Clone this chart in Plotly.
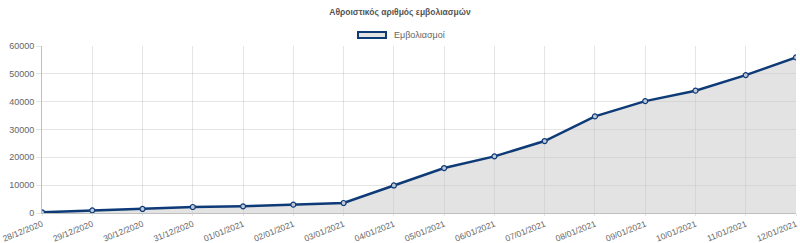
import plotly.graph_objects as go

dates = ["28/12/2020", "29/12/2020", "30/12/2020", "31/12/2020", "01/01/2021",
         "02/01/2021", "03/01/2021", "04/01/2021", "05/01/2021", "06/01/2021",
         "07/01/2021", "08/01/2021", "09/01/2021", "10/01/2021", "11/01/2021",
         "12/01/2021"]
vaccinations = [250, 950, 1450, 2150, 2400, 3000, 3600, 9900, 16150, 20350,
                25850, 34700, 40200, 43950, 49550, 55900]
y_ticks = [0, 10000, 20000, 30000, 40000, 50000, 60000]

title_text = "Αθροιστικός αριθμός εμβολιασμών"
series_name = "Εμβολιασμοί"

line_color = "#0e3b78"
fill_color = "rgba(200,200,200,0.5)"
font_family = "Liberation Sans, Arial, sans-serif"

W, H = 800, 243
L, R, T, B = 42, 4, 46, 30
PW, PH = W - L - R, H - T - B


def px_x(x):
    return (x - L) / PW


def px_y(y):
    return (H - B - y) / PH


fig = go.Figure()
fig.add_trace(go.Scatter(
    x=dates, y=vaccinations, mode="lines+markers", name=series_name,
    line=dict(color=line_color, width=2.5),
    marker=dict(size=5, color="rgba(190,200,215,1)", line=dict(color=line_color, width=1.2)),
    fill="tozeroy", fillcolor=fill_color, showlegend=False,
))

# legend box + label
fig.add_shape(type="rect", xref="paper", yref="paper",
              x0=px_x(358), x1=px_x(386), y0=px_y(38), y1=px_y(32),
              fillcolor="#e3e3e3", line=dict(color=line_color, width=2), layer="above")
fig.add_annotation(text=series_name, xref="paper", yref="paper",
                   x=px_x(392), y=px_y(35), xanchor="left", yanchor="middle",
                   showarrow=False, font=dict(size=9, color="#666"))

fig.update_layout(
    width=W, height=H,
    margin=dict(l=L, r=R, t=T, b=B),
    paper_bgcolor="white", plot_bgcolor="white",
    font=dict(family=font_family, size=9, color="#666"),
    title=dict(text="<b>" + title_text + "</b>", x=0.5, xanchor="center",
               y=1 - 12 / H, yanchor="middle", font=dict(size=8.5, color="#555")),
    showlegend=False,
    xaxis=dict(
        type="category", range=[0, len(dates) - 1], tickangle=-22, automargin=False,
        showgrid=True, gridcolor="rgba(0,0,0,0.1)", gridwidth=1,
        showline=True, linecolor="rgba(0,0,0,0.25)",
        ticks="outside", ticklen=2, tickcolor="rgba(0,0,0,0.1)",
        tickfont=dict(size=8.5, color="#666"), zeroline=False,
    ),
    yaxis=dict(
        range=[0, 60000], tickvals=y_ticks, ticktext=[str(v) for v in y_ticks], automargin=False,
        showgrid=True, gridcolor="rgba(0,0,0,0.1)", gridwidth=1,
        showline=True, linecolor="rgba(0,0,0,0.25)",
        ticks="outside", ticklen=5, tickcolor="rgba(0,0,0,0.1)",
        tickfont=dict(size=9, color="#666"), zeroline=False,
    ),
)

fig.write_html("out.html")
